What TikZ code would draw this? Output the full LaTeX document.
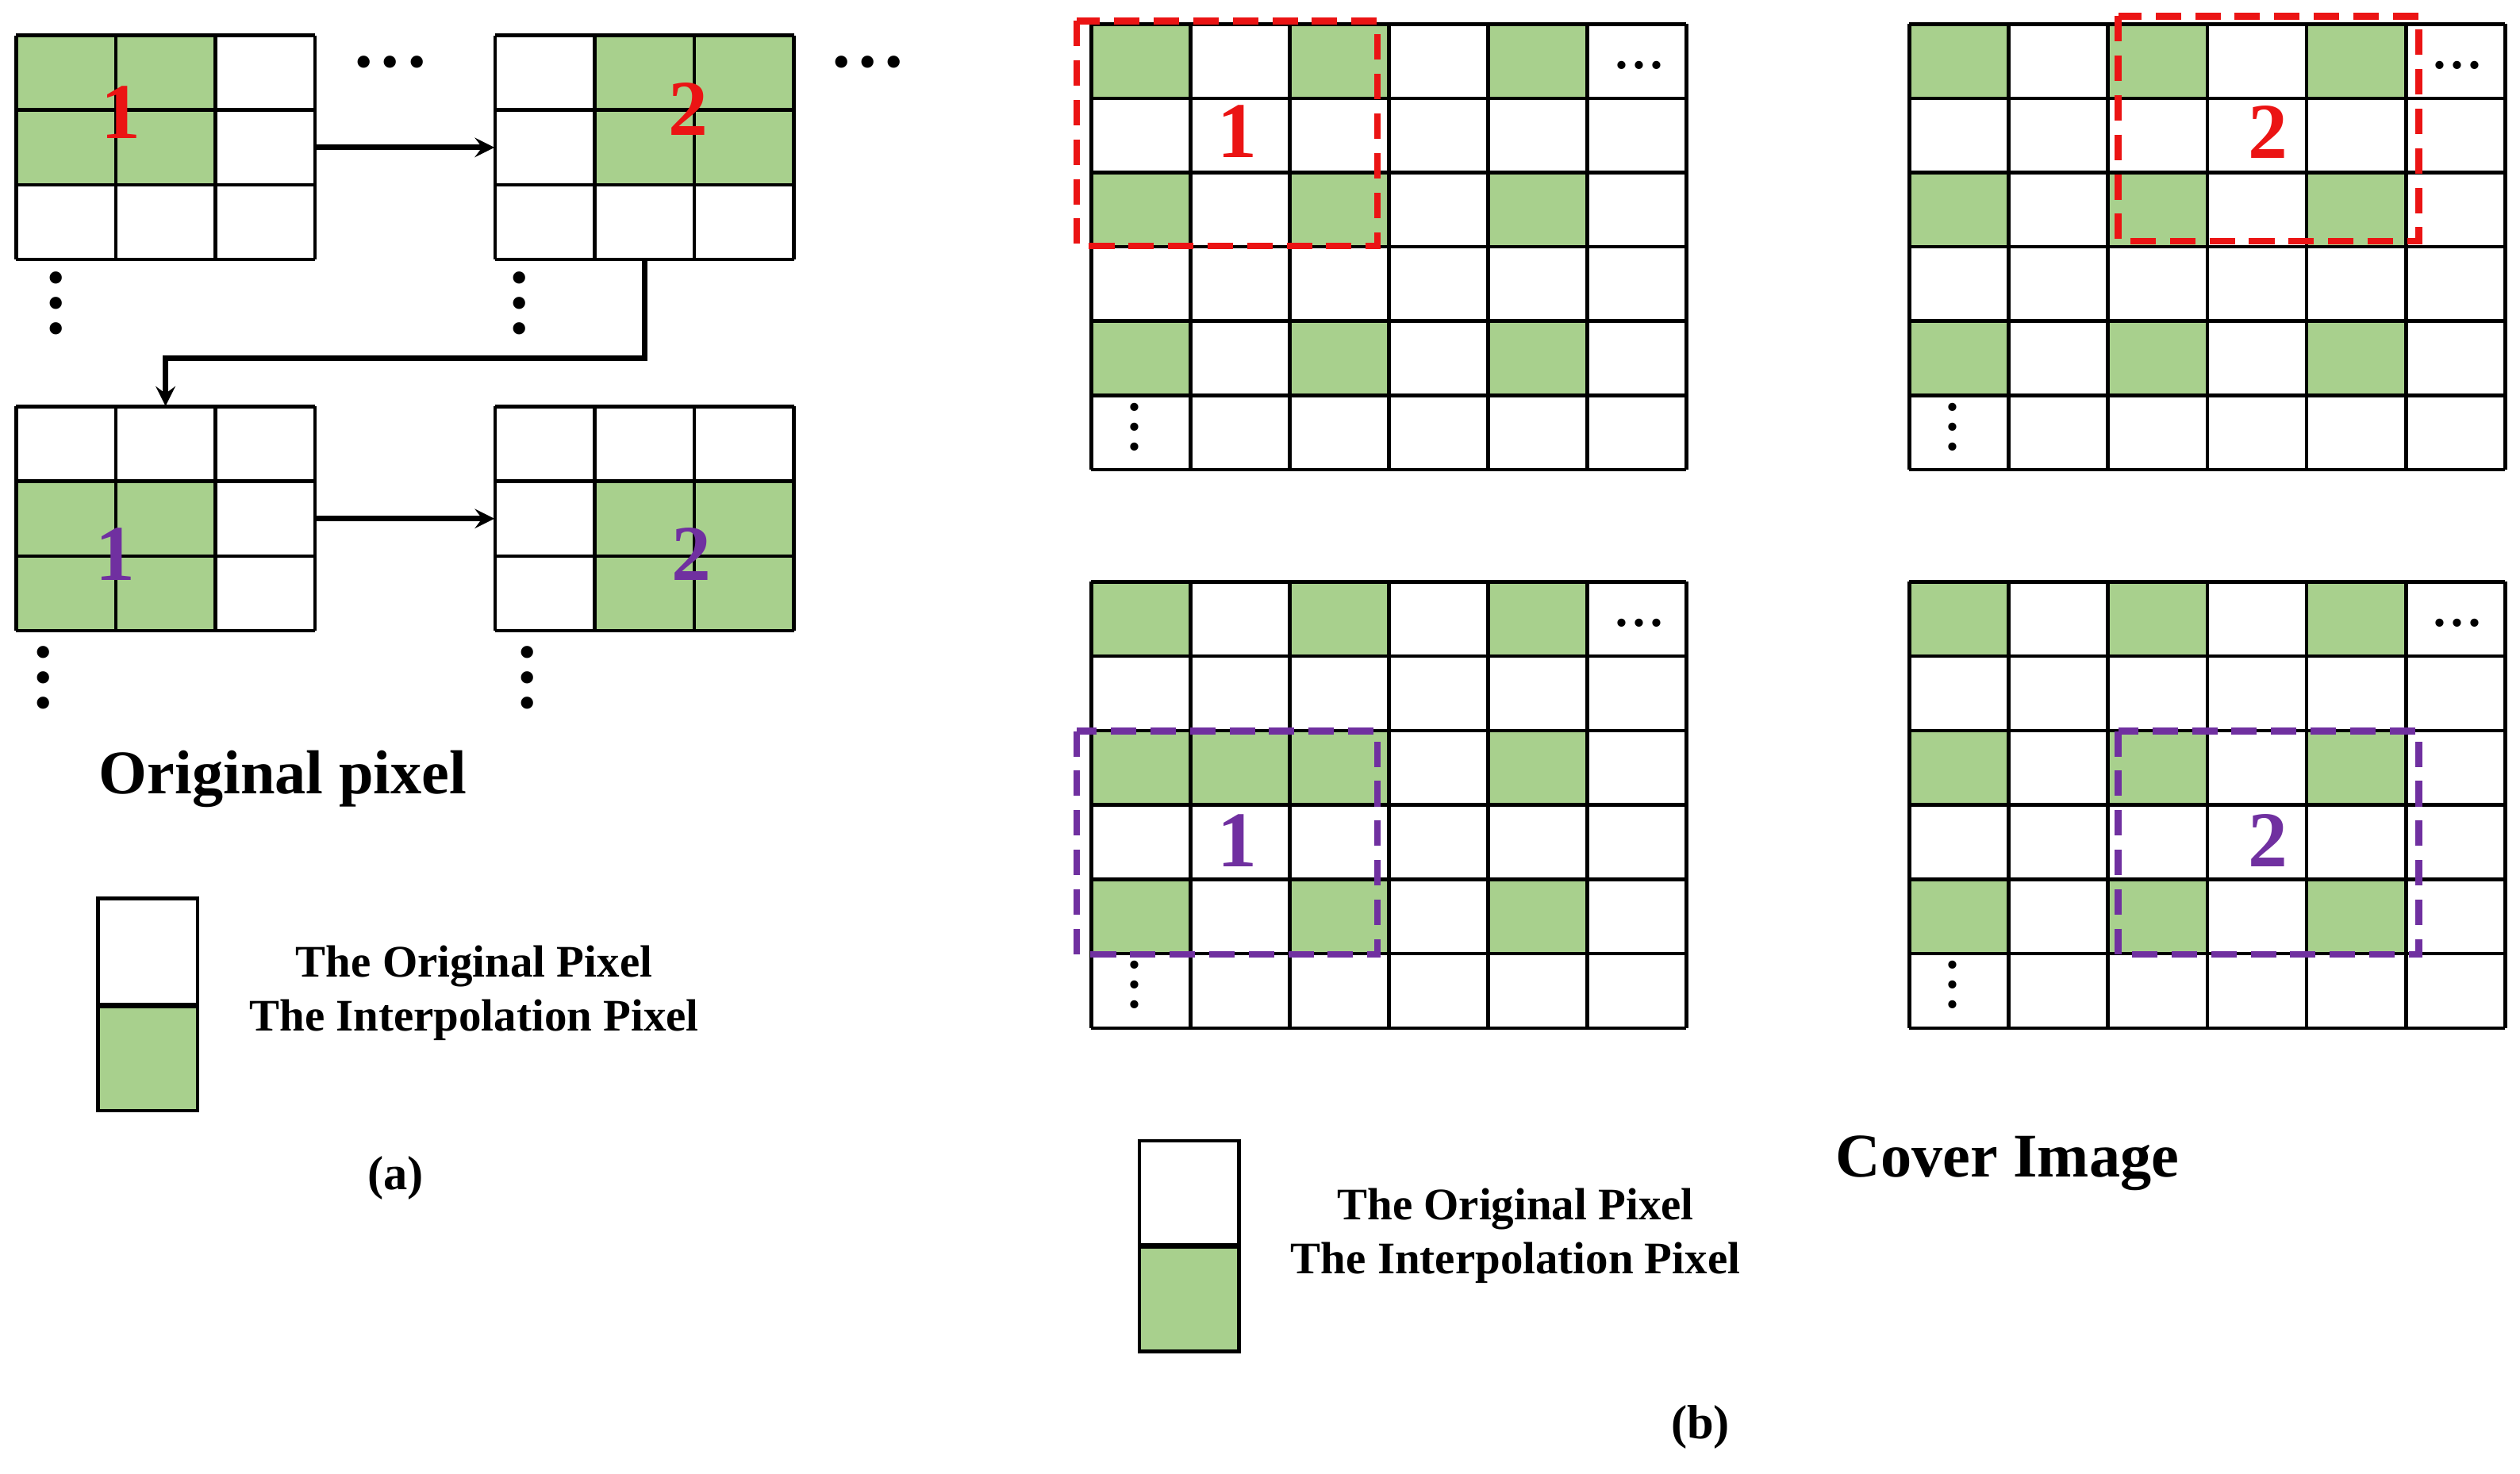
\documentclass[tikz,border=0pt]{standalone}
\usepackage{fontspec}
\setmainfont{Liberation Serif}
\usetikzlibrary{positioning, arrows}
\definecolor{pixgreen}{RGB}{168,208,141}
\definecolor{boxred}{RGB}{235,20,20}
\definecolor{boxpurple}{RGB}{112,48,160}

% grid: x0, y0, cols, rows, cell w, cell h, list of green cells c/r
\newcommand{\pixgrid}[7]{%
  \foreach \c/\r in {#7} {
    \fill[pixgreen] ({#1+\c*#5},{#2+\r*#6}) rectangle ++(#5,#6);
  }
  \foreach \i in {0,...,#3} {
    \draw[line width=1.3pt] ({#1+\i*#5},#2) -- ({#1+\i*#5},{#2+#4*#6});
  }
  \foreach \j in {0,...,#4} {
    \draw[line width=1.3pt] (#1,{#2+\j*#6}) -- ({#1+#3*#5},{#2+\j*#6});
  }
}

\begin{document}
\begin{tikzpicture}[x=0.02cm,y=-0.02cm]
    \tikzstyle{box}   = [rectangle, inner sep=0pt, minimum width=3.72cm, minimum height=2.79cm]
    \tikzstyle{arrow} = [line width=2pt,->,>=stealth]
    \tikzstyle{num}   = [font=\fontsize{28}{28}\selectfont\bfseries]
    \tikzstyle{legend}= [font=\fontsize{15}{18}\selectfont\bfseries, align=center]
    \tikzstyle{title} = [font=\fontsize{21}{24}\selectfont\bfseries]
    \tikzstyle{window}= [line width=2.4pt, dash pattern=on 9pt off 5pt]
    \tikzstyle{hdots} = [font=\fontsize{18}{18}\selectfont, inner sep=0pt]
    \tikzstyle{vdots} = [font=\fontsize{18}{9}\selectfont, align=center, inner sep=0pt]
    \useasboundingbox (0,0) rectangle (1568,917);

    % (a) original pixel
    \pixgrid{10}{22}{3}{3}{62}{46.5}{0/0,1/0,0/1,1/1}
    \pixgrid{308}{22}{3}{3}{62}{46.5}{1/0,2/0,1/1,2/1}
    \pixgrid{10}{253}{3}{3}{62}{46.5}{0/1,1/1,0/2,1/2}
    \pixgrid{308}{253}{3}{3}{62}{46.5}{1/1,2/1,1/2,2/2}
    \node (g1) [box] at (103,91.75) {};
    \node (g2) [box] at (401,91.75) {};
    \node (g3) [box] at (103,322.75) {};
    \node (g4) [box] at (401,322.75) {};
    \node [num, text=boxred] at (75,70) {1};
    \node [num, text=boxred] at (428,68) {2};
    \node [num, text=boxpurple] at (72,345) {1};
    \node [num, text=boxpurple] at (430,345) {2};
    \node [hdots] at (243,42) {\textbullet\,\textbullet\,\textbullet};
    \node [hdots] at (540,42) {\textbullet\,\textbullet\,\textbullet};
    \node [vdots] at (35,192) {\textbullet\\\textbullet\\\textbullet};
    \node [vdots] at (323,192) {\textbullet\\\textbullet\\\textbullet};
    \node [vdots] at (27,425) {\textbullet\\\textbullet\\\textbullet};
    \node [vdots] at (328,425) {\textbullet\\\textbullet\\\textbullet};
    \draw[arrow] (g1.east) to (g2.west);
    \draw[arrow] (g3.east) to (g4.west);
    \draw[arrow] (g2.south) -- ++(0,61) -| (g3.north);
    \node (orig) [title, font=\fontsize{22}{24}\selectfont\bfseries] at (176,485) {Original pixel};
    \node (wa) [draw, line width=1.3pt, minimum width=1.24cm, minimum height=1.32cm] at (92,592) {};
    \node (ga) [draw, line width=1.3pt, fill=pixgreen, minimum width=1.24cm, minimum height=1.3cm, below=-0.65pt of wa] {};
    \node (la) [legend, font=\fontsize{16}{19}\selectfont\bfseries] at (295,618) {The Original Pixel\\The Interpolation Pixel};
    \node (ca) [font=\fontsize{17}{20}\selectfont\bfseries] at (246,733) {(a)};

    % (b) cover image
    \pixgrid{679}{15}{6}{6}{61.7}{46.2}{0/0,2/0,4/0,0/2,2/2,4/2,0/4,2/4,4/4}
    \pixgrid{1188}{15}{6}{6}{61.8}{46.2}{0/0,2/0,4/0,0/2,2/2,4/2,0/4,2/4,4/4}
    \pixgrid{679}{362}{6}{6}{61.7}{46.3}{0/0,2/0,4/0,0/2,1/2,2/2,4/2,0/4,2/4,4/4}
    \pixgrid{1188}{362}{6}{6}{61.8}{46.3}{0/0,2/0,4/0,0/2,2/2,4/2,0/4,2/4,4/4}
    \foreach \gx/\gy in {679/15,1188/15,679/362,1188/362} {
      \node [font=\fontsize{12}{12}\selectfont, inner sep=0pt] at ({\gx+341},{\gy+28}) {\textbullet\,\textbullet\,\textbullet};
      \node [vdots, font=\fontsize{12}{7}\selectfont] at ({\gx+27},{\gy+253}) {\textbullet\\\textbullet\\\textbullet};
    }
    \draw[window, boxred] (670,13) rectangle (857,153);
    \draw[window, boxred] (1318,10) rectangle (1505,150);
    \draw[window, boxpurple] (670,455) rectangle (857,594);
    \draw[window, boxpurple] (1318,455) rectangle (1505,594);
    \node [num, text=boxred] at (770,82) {1};
    \node [num, text=boxred] at (1411,82) {2};
    \node [num, text=boxpurple] at (770,523) {1};
    \node [num, text=boxpurple] at (1411,523) {2};
    \node (wb) [draw, line width=1.3pt, minimum width=1.24cm, minimum height=1.3cm] at (740,742.5) {};
    \node (gb) [draw, line width=1.3pt, fill=pixgreen, minimum width=1.24cm, minimum height=1.3cm, below=-0.65pt of wb] {};
    \node (lb) [legend, font=\fontsize{16}{19}\selectfont\bfseries] at (943,769) {The Original Pixel\\The Interpolation Pixel};
    \node (cover) [title, font=\fontsize{22}{24}\selectfont\bfseries] at (1249,724) {Cover Image};
    \node (cb) [font=\fontsize{17}{20}\selectfont\bfseries] at (1058,888) {(b)};
\end{tikzpicture}
\end{document}
